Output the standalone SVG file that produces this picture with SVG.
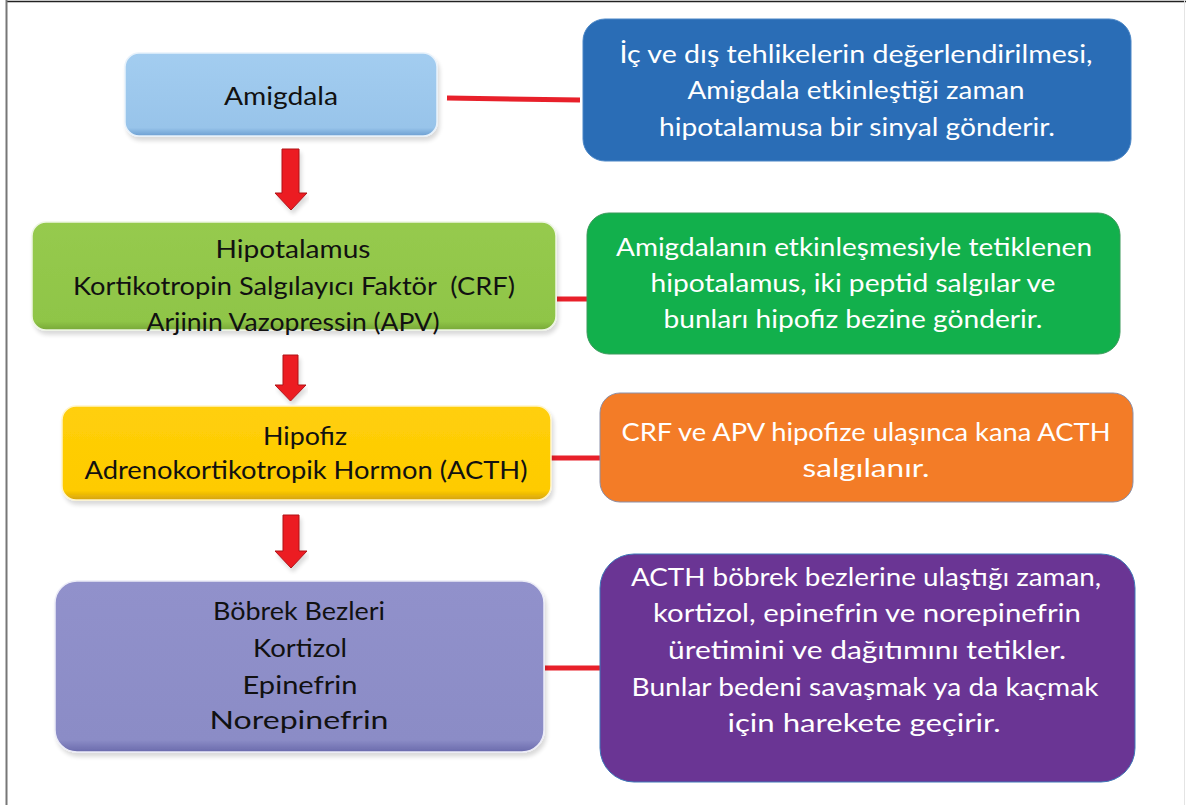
<svg xmlns="http://www.w3.org/2000/svg" width="1186" height="805" viewBox="0 0 1186 805">
<defs>
<style>
.t{font-family:Lato,"Liberation Sans",Arial,sans-serif;font-size:25px;text-anchor:middle}
.dk{fill:#111}
.wh{fill:#fff}
.conn{stroke:#e8202a;stroke-width:5;fill:none}
.arr{fill:#ec1c24;stroke:#b0141a;stroke-width:1}
</style>
<linearGradient id="gBlue" x1="0" y1="0" x2="0" y2="1">
<stop offset="0" stop-color="#a3cdf0"/><stop offset="0.9" stop-color="#98c4ea"/><stop offset="1" stop-color="#6c9fd2"/>
</linearGradient>
<linearGradient id="gGreen" x1="0" y1="0" x2="0" y2="1">
<stop offset="0" stop-color="#96ca4e"/><stop offset="0.92" stop-color="#8fc547"/><stop offset="1" stop-color="#78a838"/>
</linearGradient>
<linearGradient id="gYellow" x1="0" y1="0" x2="0" y2="1">
<stop offset="0" stop-color="#ffcf0a"/><stop offset="0.9" stop-color="#fecb00"/><stop offset="1" stop-color="#d4a20e"/>
</linearGradient>
<linearGradient id="gPurple" x1="0" y1="0" x2="0" y2="1">
<stop offset="0" stop-color="#9191cb"/><stop offset="0.93" stop-color="#8b8cc6"/><stop offset="1" stop-color="#6a6aac"/>
</linearGradient>
<filter id="sh" x="-5%" y="-10%" width="110%" height="125%">
<feGaussianBlur in="SourceAlpha" stdDeviation="2"/>
<feOffset dx="2" dy="4"/>
<feComponentTransfer><feFuncA type="linear" slope="0.15"/></feComponentTransfer>
<feMerge><feMergeNode/><feMergeNode in="SourceGraphic"/></feMerge>
</filter>
</defs>
<rect width="1186" height="805" fill="#fff"/>
<g id="frame">
<line x1="6" y1="1.5" x2="1186" y2="1.5" stroke="#222" stroke-width="1.5"/>
<line x1="6.5" y1="0" x2="6.5" y2="805" stroke="#777" stroke-width="2"/>
<line x1="1184.5" y1="0" x2="1184.5" y2="805" stroke="#e4e4e4" stroke-width="1"/>
</g>
<g id="connectors">
<path class="conn" d="M447,98 L580,100"/>
<path class="conn" d="M557,299 L587,299"/>
<path class="conn" d="M551,458 L600,458"/>
<path class="conn" d="M545,668 L600,668"/>
<path class="arr" filter="url(#sh)" d="M282,149 H299 V193 H307 L291,210 L275,193 H282 Z"/>
<path class="arr" filter="url(#sh)" d="M283,355 H298 V385 H306 L290.5,401 L275,385 H283 Z"/>
<path class="arr" filter="url(#sh)" d="M283,515 H299 V551 H307 L291,568 L275,551 H283 Z"/>
</g>
<g id="amigdala">
<rect x="125" y="53" width="312" height="83" rx="14" fill="url(#gBlue)" stroke="#e8f2fb" stroke-width="1.5" filter="url(#sh)"/>
<text class="t dk" x="281" y="105" textLength="114" lengthAdjust="spacingAndGlyphs">Amigdala</text>
</g>
<g id="hipotalamus">
<rect x="32" y="222" width="524" height="108" rx="14" fill="url(#gGreen)" stroke="#eef6e4" stroke-width="1.5" filter="url(#sh)"/>
<text class="t dk" x="293" y="258" textLength="155" lengthAdjust="spacingAndGlyphs">Hipotalamus</text>
<text class="t dk" x="294" y="295" textLength="442" lengthAdjust="spacingAndGlyphs" xml:space="preserve">Kortikotropin Salgılayıcı Faktör  (CRF)</text>
<text class="t dk" x="293" y="331" textLength="293" lengthAdjust="spacingAndGlyphs">Arjinin Vazopressin (APV)</text>
</g>
<g id="hipofiz">
<rect x="62" y="406" width="489" height="94" rx="14" fill="url(#gYellow)" stroke="#fff5cc" stroke-width="1.5" filter="url(#sh)"/>
<text class="t dk" x="305" y="445" textLength="84" lengthAdjust="spacingAndGlyphs">Hipofiz</text>
<text class="t dk" x="306" y="479" textLength="443" lengthAdjust="spacingAndGlyphs">Adrenokortikotropik Hormon (ACTH)</text>
</g>
<g id="bobrek">
<rect x="55" y="581" width="489" height="171" rx="22" fill="url(#gPurple)" stroke="#ececf7" stroke-width="1.5" filter="url(#sh)"/>
<text class="t dk" x="299" y="620" textLength="172" lengthAdjust="spacingAndGlyphs">Böbrek Bezleri</text>
<text class="t dk" x="300" y="657" textLength="94" lengthAdjust="spacingAndGlyphs">Kortizol</text>
<text class="t dk" x="300" y="694" textLength="115" lengthAdjust="spacingAndGlyphs">Epinefrin</text>
<text class="t dk" x="299" y="729" textLength="179" lengthAdjust="spacingAndGlyphs">Norepinefrin</text>
</g>
<g id="desc-amigdala">
<rect x="583" y="19" width="548" height="142" rx="22" fill="#2a6db6" stroke="#4a86c6" stroke-width="1"/>
<text class="t wh" x="856" y="63" textLength="473" lengthAdjust="spacingAndGlyphs">İç ve dış tehlikelerin değerlendirilmesi,</text>
<text class="t wh" x="856" y="99" textLength="337" lengthAdjust="spacingAndGlyphs">Amigdala etkinleştiği zaman</text>
<text class="t wh" x="857" y="136" textLength="396" lengthAdjust="spacingAndGlyphs">hipotalamusa bir sinyal gönderir.</text>
</g>
<g id="desc-hipotalamus">
<rect x="587" y="213" width="533" height="141" rx="22" fill="#12b04c" stroke="#3a9a5a" stroke-width="1"/>
<text class="t wh" x="854" y="256" textLength="476" lengthAdjust="spacingAndGlyphs">Amigdalanın etkinleşmesiyle tetiklenen</text>
<text class="t wh" x="853" y="292" textLength="405" lengthAdjust="spacingAndGlyphs">hipotalamus, iki peptid salgılar ve</text>
<text class="t wh" x="853" y="328" textLength="379" lengthAdjust="spacingAndGlyphs">bunları hipofiz bezine gönderir.</text>
</g>
<g id="desc-hipofiz">
<rect x="600" y="393" width="533" height="109" rx="20" fill="#f37c27" stroke="#8b8fa8" stroke-width="1"/>
<text class="t wh" x="866" y="441" textLength="489" lengthAdjust="spacingAndGlyphs">CRF ve APV hipofize ulaşınca kana ACTH</text>
<text class="t wh" x="866" y="477" textLength="127" lengthAdjust="spacingAndGlyphs">salgılanır.</text>
</g>
<g id="desc-bobrek">
<rect x="600" y="554" width="535" height="228" rx="34" fill="#6a3594" stroke="#3e78b8" stroke-width="1"/>
<text class="t wh" x="866" y="586" textLength="470" lengthAdjust="spacingAndGlyphs">ACTH böbrek bezlerine ulaştığı zaman,</text>
<text class="t wh" x="867" y="622" textLength="428" lengthAdjust="spacingAndGlyphs">kortizol, epinefrin ve norepinefrin</text>
<text class="t wh" x="867" y="659" textLength="398" lengthAdjust="spacingAndGlyphs">üretimini ve dağıtımını tetikler.</text>
<text class="t wh" x="865" y="696" textLength="467" lengthAdjust="spacingAndGlyphs">Bunlar bedeni savaşmak ya da kaçmak</text>
<text class="t wh" x="864" y="732" textLength="273" lengthAdjust="spacingAndGlyphs">için harekete geçirir.</text>
</g>
</svg>
